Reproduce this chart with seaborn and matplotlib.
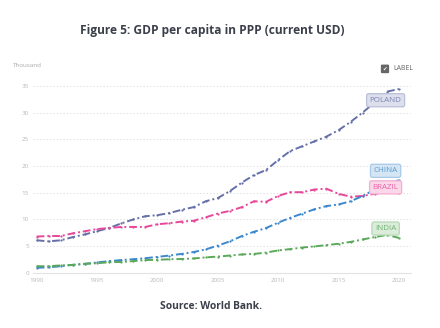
import matplotlib
matplotlib.use("Agg")
import matplotlib.pyplot as plt
import matplotlib.colors as mcolors
import seaborn as sns
import pandas as pd

years = list(range(1990, 2021))
poland = [6.1, 5.9, 6.1, 6.7, 7.2, 7.8, 8.4, 9.25, 10.0, 10.6, 10.8, 11.2, 11.8, 12.3, 13.4, 14.0,
          15.3, 16.9, 18.3, 19.25, 21.1, 22.8, 23.7, 24.6, 25.5, 26.7, 28.25, 30.0, 31.9, 33.9, 34.4]
brazil = [6.8, 6.9, 6.9, 7.4, 7.8, 8.2, 8.4, 8.6, 8.6, 8.6, 9.1, 9.3, 9.6, 9.75, 10.4, 11.1,
          11.6, 12.3, 13.4, 13.3, 14.4, 15.1, 15.1, 15.6, 15.75, 14.8, 14.25, 14.4, 14.8, 15.1, 14.9]
china = [0.95, 1.05, 1.25, 1.5, 1.7, 1.95, 2.2, 2.4, 2.55, 2.75, 3.0, 3.25, 3.55, 3.9, 4.4, 5.1,
         5.9, 6.9, 7.7, 8.4, 9.4, 10.3, 11.1, 11.9, 12.5, 12.8, 13.4, 14.4, 15.6, 16.9, 17.3]
india = [1.25, 1.25, 1.4, 1.5, 1.7, 1.8, 2.0, 2.05, 2.2, 2.4, 2.45, 2.55, 2.6, 2.7, 2.9, 3.05,
         3.25, 3.45, 3.55, 3.8, 4.2, 4.45, 4.75, 4.95, 5.2, 5.45, 5.8, 6.25, 6.7, 7.1, 6.55]
countries = ["POLAND", "BRAZIL", "CHINA", "INDIA"]
colors = {"POLAND": "#6570a8", "BRAZIL": "#e8489a", "CHINA": "#3d88cc", "INDIA": "#5aa85a"}
label_y = {"POLAND": 32.3, "CHINA": 19.1, "BRAZIL": 16.0, "INDIA": 8.3}
x_ticks = [1990, 1995, 2000, 2005, 2010, 2015, 2020]
y_ticks = [0, 5, 10, 15, 20, 25, 30, 35]

series = {"POLAND": poland, "BRAZIL": brazil, "CHINA": china, "INDIA": india}
df = pd.DataFrame([{"year": y, "value": v, "country": c}
                   for c in countries for y, v in zip(years, series[c])])


def tint(col, f):
    r, g, b = mcolors.to_rgb(col)
    return (1 - f + f * r, 1 - f + f * g, 1 - f + f * b)


sns.set_theme(style="white")
plt.rcParams['font.family'] = ['Open Sans', 'DejaVu Sans']

fig = plt.figure(figsize=(4.4, 3.28), dpi=100)
ax = fig.add_axes([0.075, 0.168, 0.859, 0.572])

sns.lineplot(data=df, x="year", y="value", hue="country", palette=colors,
             hue_order=countries, ax=ax, legend=False, linewidth=1.4,
             marker="o", markersize=1.6, markeredgewidth=0)
for line in ax.lines:
    line.set_linestyle((0, (4, 1.5, 1, 1.5)))

ax.set_xlim(1989.7, 2021)
ax.set_ylim(0, 35.1)
ax.set_xticks(x_ticks)
ax.set_yticks(y_ticks)
ax.tick_params(axis="both", labelsize=4.5, labelcolor="#b8b8b8", length=0, pad=3)
ax.tick_params(axis="x", length=2, color="#dddddd", direction="in", pad=4)
ax.set_xlabel("")
ax.set_ylabel("")
for s in ["top", "right", "left"]:
    ax.spines[s].set_visible(False)
ax.spines["bottom"].set_color("#e2e2e2")
ax.spines["bottom"].set_linewidth(0.8)
ax.yaxis.grid(True, linestyle=(0, (1.5, 2.5)), color="#d8d8d8", linewidth=0.6)
ax.set_axisbelow(True)

for c in countries:
    col = colors[c]
    ax.text(2018.9, label_y[c], c, ha="center", va="center", fontsize=5.8,
            color=tint(col, 0.85), zorder=10,
            bbox=dict(boxstyle="round,pad=0.38,rounding_size=0.25", fc=tint(col, 0.22),
                      ec=tint(col, 0.45), lw=0.9))

fig.text(0.482, 0.908, "Figure 5: GDP per capita in PPP (current USD)", ha="center",
         va="center", fontsize=8.6, fontweight="bold", color="#3a3f4a")
fig.text(0.03, 0.8, "Thousand", ha="left", va="center", fontsize=4.5, color="#a8a8a8")
fig.text(0.875, 0.79, "\u2714", ha="center", va="center", fontsize=4, color="white",
         family=["DejaVu Sans"],
         bbox=dict(boxstyle="round,pad=0.2,rounding_size=0.1", fc="#666666", ec="#666666"))
fig.text(0.895, 0.79, "LABEL", ha="left", va="center", fontsize=5, color="#666666")
fig.text(0.48, 0.065, "Source: World Bank.", ha="center", va="center", fontsize=7.4,
         fontweight="bold", color="#3a3f4a")

fig.savefig("out.png", dpi=100)
